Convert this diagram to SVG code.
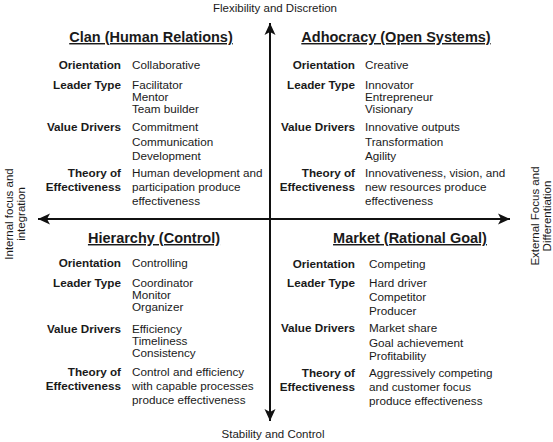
<svg xmlns="http://www.w3.org/2000/svg" width="553" height="442" viewBox="0 0 553 442">
<style>
text{font-family:"Liberation Sans",Arial,sans-serif;fill:#1a1a1a}
.t{font-size:14.5px;font-weight:bold;text-anchor:middle;text-decoration:underline}
.l{font-size:11.7px;font-weight:bold;text-anchor:end}
.v{font-size:11.7px}
.ax{font-size:11.5px;text-anchor:middle}
.axis{stroke:#111;stroke-width:2;fill:none}
</style>
<defs>
<marker id="ah" viewBox="-13 -6 14 12" refX="0" refY="0" markerWidth="14" markerHeight="12" markerUnits="userSpaceOnUse" orient="auto">
<path d="M0,0 L-12,-5.5 L-9,0 L-12,5.5 Z" fill="#111"/>
</marker>
</defs>
<g id="connectors">
<line class="axis" x1="270" y1="220" x2="270" y2="23" marker-end="url(#ah)"/>
<line class="axis" x1="270" y1="219" x2="270" y2="421" marker-end="url(#ah)"/>
<line class="axis" x1="270" y1="219" x2="38" y2="219" marker-end="url(#ah)"/>
<line class="axis" x1="270" y1="219" x2="510" y2="219" marker-end="url(#ah)"/>
</g>
<g id="axis-labels">
<text class="ax" x="275" y="12">Flexibility and Discretion</text>
<text class="ax" x="273" y="438">Stability and Control</text>
<text class="ax" transform="translate(13,214) rotate(-90)">Internal focus and</text>
<text class="ax" transform="translate(25,214) rotate(-90)">integration</text>
<text class="ax" transform="translate(539,216) rotate(-90)">External Focus and</text>
<text class="ax" transform="translate(551,216) rotate(-90)">Differentiation</text>
</g>
<g id="clan">
<text class="t" x="151" y="42">Clan (Human Relations)</text>
<text class="l" x="121" y="69">Orientation</text>
<text class="v" x="132" y="69">Collaborative</text>
<text class="l" x="121" y="89">Leader Type</text>
<text class="v" x="132" y="89">Facilitator</text>
<text class="v" x="132" y="101">Mentor</text>
<text class="v" x="132" y="113">Team builder</text>
<text class="l" x="121" y="131">Value Drivers</text>
<text class="v" x="132" y="131">Commitment</text>
<text class="v" x="132" y="146">Communication</text>
<text class="v" x="132" y="160">Development</text>
<text class="l" x="121" y="177">Theory of</text>
<text class="l" x="121" y="191">Effectiveness</text>
<text class="v" x="132" y="177">Human development and</text>
<text class="v" x="132" y="191">participation produce</text>
<text class="v" x="132" y="205">effectiveness</text>
</g>
<g id="adhocracy">
<text class="t" x="396" y="42">Adhocracy (Open Systems)</text>
<text class="l" x="355" y="69">Orientation</text>
<text class="v" x="365" y="69">Creative</text>
<text class="l" x="355" y="89">Leader Type</text>
<text class="v" x="365" y="89">Innovator</text>
<text class="v" x="365" y="101">Entrepreneur</text>
<text class="v" x="365" y="113">Visionary</text>
<text class="l" x="355" y="131">Value Drivers</text>
<text class="v" x="365" y="131">Innovative outputs</text>
<text class="v" x="365" y="146">Transformation</text>
<text class="v" x="365" y="160">Agility</text>
<text class="l" x="355" y="177">Theory of</text>
<text class="l" x="355" y="191">Effectiveness</text>
<text class="v" x="365" y="177">Innovativeness, vision, and</text>
<text class="v" x="365" y="191">new resources produce</text>
<text class="v" x="365" y="205">effectiveness</text>
</g>
<g id="hierarchy">
<text class="t" x="154" y="243">Hierarchy (Control)</text>
<text class="l" x="121" y="267">Orientation</text>
<text class="v" x="132" y="267">Controlling</text>
<text class="l" x="121" y="287">Leader Type</text>
<text class="v" x="132" y="287">Coordinator</text>
<text class="v" x="132" y="299">Monitor</text>
<text class="v" x="132" y="311">Organizer</text>
<text class="l" x="121" y="333">Value Drivers</text>
<text class="v" x="132" y="333">Efficiency</text>
<text class="v" x="132" y="345">Timeliness</text>
<text class="v" x="132" y="357">Consistency</text>
<text class="l" x="121" y="376">Theory of</text>
<text class="l" x="121" y="390">Effectiveness</text>
<text class="v" x="132" y="376">Control and efficiency</text>
<text class="v" x="132" y="390">with capable processes</text>
<text class="v" x="132" y="404">produce effectiveness</text>
</g>
<g id="market">
<text class="t" x="410" y="243">Market (Rational Goal)</text>
<text class="l" x="355" y="268">Orientation</text>
<text class="v" x="369" y="268">Competing</text>
<text class="l" x="355" y="287">Leader Type</text>
<text class="v" x="369" y="287">Hard driver</text>
<text class="v" x="369" y="301">Competitor</text>
<text class="v" x="369" y="315">Producer</text>
<text class="l" x="355" y="332">Value Drivers</text>
<text class="v" x="369" y="332">Market share</text>
<text class="v" x="369" y="347">Goal achievement</text>
<text class="v" x="369" y="360">Profitability</text>
<text class="l" x="355" y="377">Theory of</text>
<text class="l" x="355" y="391">Effectiveness</text>
<text class="v" x="369" y="377">Aggressively competing</text>
<text class="v" x="369" y="391">and customer focus</text>
<text class="v" x="369" y="405">produce effectiveness</text>
</g>
</svg>
